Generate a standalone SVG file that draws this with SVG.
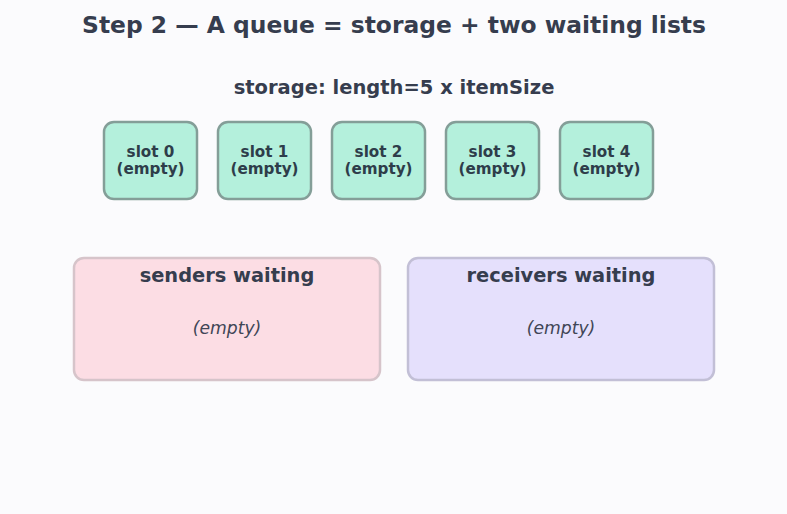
<svg xmlns="http://www.w3.org/2000/svg" width="787" height="514" viewBox="0 0 787 514">
<style>
text{font-family:"DejaVu Sans","Liberation Sans",sans-serif;fill:#363d4e;text-anchor:middle}
.title{font-size:23.4px;font-weight:bold}
.sub{font-size:19.5px;font-weight:bold}
.slot rect{fill:#b4f0dc;stroke:#849e98;stroke-width:2.5}
.slot text{font-size:15.2px;font-weight:bold;fill:#2e3d4a}
.lh{font-size:19.4px;font-weight:bold}
.em{font-size:17.2px;font-style:italic;fill:#404656}
</style>
<rect width="787" height="514" fill="#fbfbfd"/>
<text class="title" x="394" y="33">Step 2 — A queue = storage + two waiting lists</text>
<text class="sub" x="394" y="94">storage: length=5 x itemSize</text>
<g id="slot0" class="slot"><rect x="104" y="122" width="93" height="77" rx="10"/><text x="150.5" y="157">slot 0</text><text x="150.5" y="174">(empty)</text></g>
<g id="slot1" class="slot"><rect x="218" y="122" width="93" height="77" rx="10"/><text x="264.5" y="157">slot 1</text><text x="264.5" y="174">(empty)</text></g>
<g id="slot2" class="slot"><rect x="332" y="122" width="93" height="77" rx="10"/><text x="378.5" y="157">slot 2</text><text x="378.5" y="174">(empty)</text></g>
<g id="slot3" class="slot"><rect x="446" y="122" width="93" height="77" rx="10"/><text x="492.5" y="157">slot 3</text><text x="492.5" y="174">(empty)</text></g>
<g id="slot4" class="slot"><rect x="560" y="122" width="93" height="77" rx="10"/><text x="606.5" y="157">slot 4</text><text x="606.5" y="174">(empty)</text></g>
<g id="senders"><rect x="74" y="258" width="306" height="122" rx="10" fill="#fcdde4" stroke="#d6c4ca" stroke-width="2.5"/><text class="lh" x="227" y="282">senders waiting</text><text class="em" x="227" y="334">(empty)</text></g>
<g id="receivers"><rect x="408" y="258" width="306" height="122" rx="10" fill="#e5e0fc" stroke="#c2bfd6" stroke-width="2.5"/><text class="lh" x="561" y="282">receivers waiting</text><text class="em" x="561" y="334">(empty)</text></g>
<g id="connectors"/>
</svg>
